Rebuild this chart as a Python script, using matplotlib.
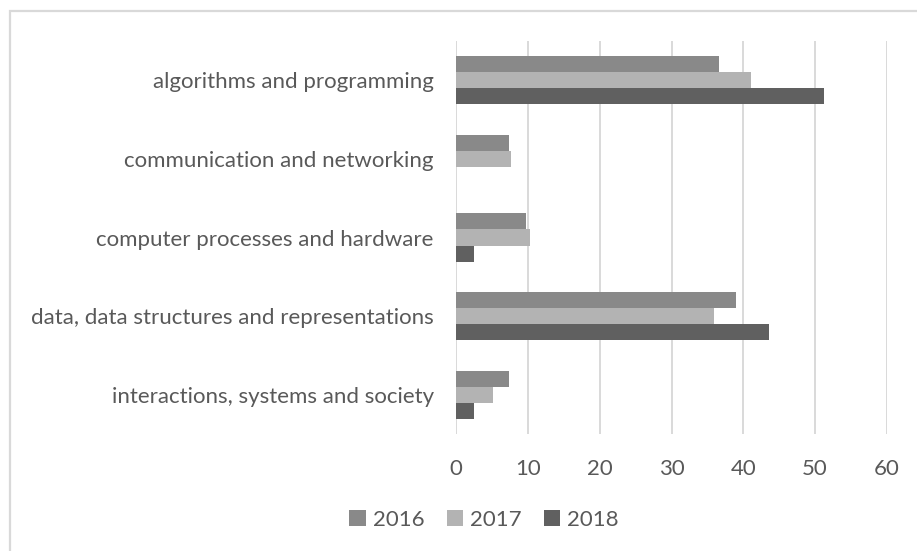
import matplotlib
matplotlib.use("Agg")
import matplotlib.pyplot as plt
from matplotlib.patches import Patch, Rectangle
import numpy as np

categories = [
    "algorithms and programming",
    "communication and networking",
    "computer processes and hardware",
    "data, data structures and representations",
    "interactions, systems and society",
]
years = ["2016", "2017", "2018"]
values_2016 = [36.59, 7.32, 9.76, 39.02, 7.32]
values_2017 = [41.03, 7.69, 10.26, 35.90, 5.13]
values_2018 = [51.28, 0.0, 2.56, 43.59, 2.56]
x_ticks = [0, 10, 20, 30, 40, 50, 60]

colors = ["#898989", "#b3b3b3", "#606060"]
text_color = "#595959"
grid_color = "#d9d9d9"

plt.rcParams["font.family"] = ["Lato", "DejaVu Sans"]

W, H = 917, 551
fig = plt.figure(figsize=(W / 100, H / 100), dpi=100)
fig.patch.set_facecolor("white")

# outer chart frame (left and top edges visible)
frame = Rectangle((10 / W, -0.2), 1.2, 1.2 - 11 / H,
                  transform=fig.transFigure, fill=False,
                  edgecolor=grid_color, linewidth=1.6)
fig.add_artist(frame)

ax = fig.add_axes([456 / W, 1 - 434 / H, (887 - 456) / W, (434 - 41) / H])

series = [values_2016, values_2017, values_2018]
y = np.arange(len(categories))
bar_h = 0.204
for k, (vals, col, lab) in enumerate(zip(series, colors, years)):
    ax.barh(y + (k - 1) * bar_h, vals, height=bar_h, color=col,
            label=lab, zorder=3)

ax.set_xlim(0, 60)
ax.set_ylim(len(categories) - 0.5, -0.5)
ax.set_xticks(x_ticks)
ax.set_xticklabels([str(t) for t in x_ticks])
ax.set_yticks(y)
ax.set_yticklabels(categories)
ax.tick_params(axis="both", length=0, colors=text_color, labelsize=16)
ax.tick_params(axis="x", pad=18)
ax.tick_params(axis="y", pad=16)
for s in ax.spines.values():
    s.set_visible(False)
ax.xaxis.grid(True, color=grid_color, linewidth=1.4, zorder=0)
ax.set_axisbelow(True)

handles = [Patch(facecolor=c, edgecolor="none") for c in colors]
fig.legend(handles, years, loc="center", bbox_to_anchor=(484 / W, 1 - 520 / H),
           ncol=3, frameon=False, fontsize=16, labelcolor=text_color,
           handlelength=0.75, handleheight=0.75, handletextpad=0.3,
           columnspacing=1.0)

fig.savefig("out.png", dpi=100, facecolor="white")
